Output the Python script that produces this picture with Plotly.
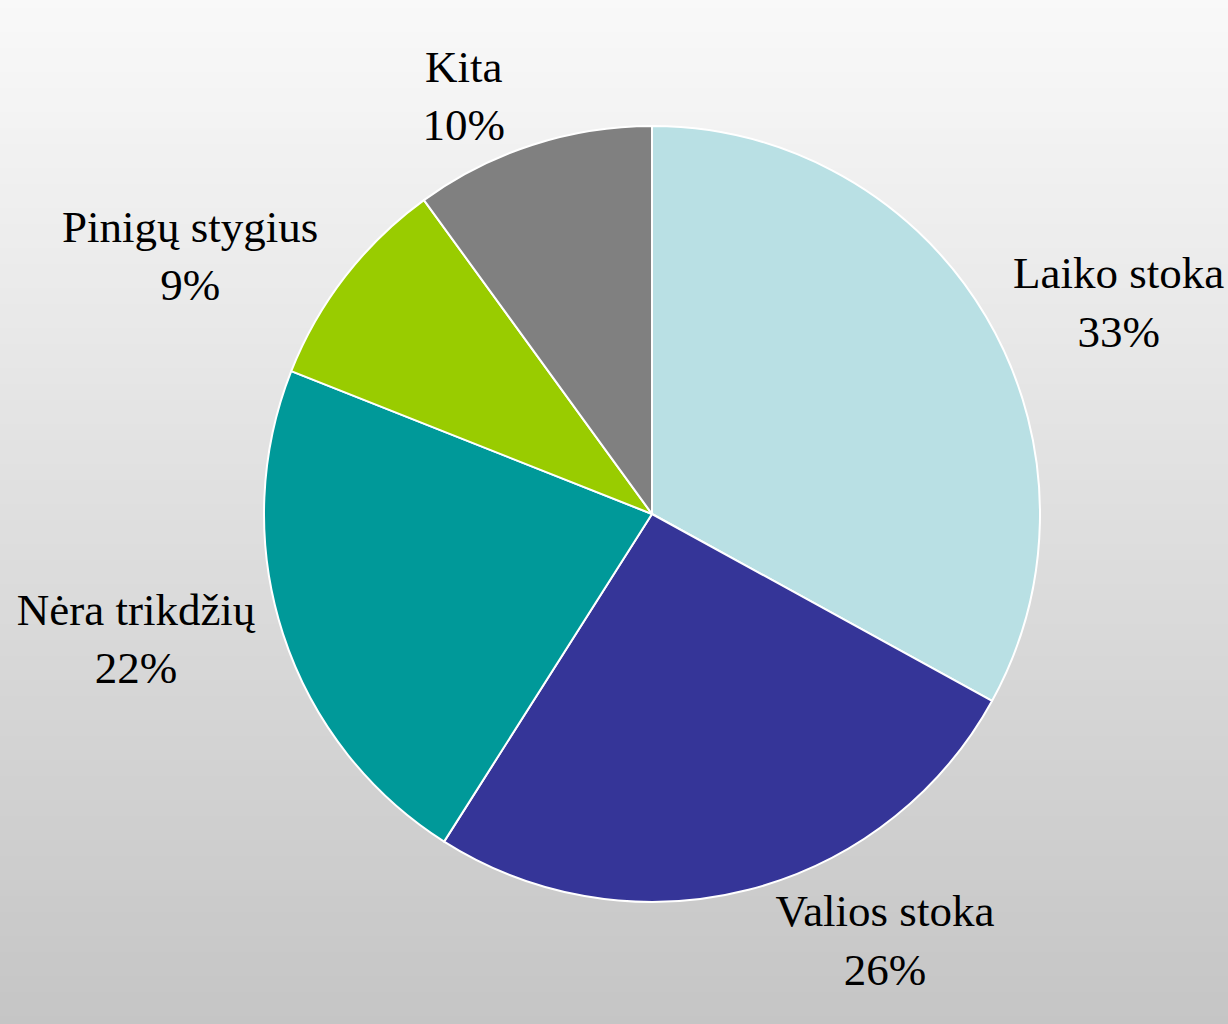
import plotly.graph_objects as go

labels = ["Laiko stoka", "Valios stoka", "Nėra trikdžių", "Pinigų stygius", "Kita"]
values = [33, 26, 22, 9, 10]
colors = ["#B9E0E4", "#353598", "#009999", "#99CC00", "#808080"]

W, H = 1228, 1024
fig = go.Figure()

fig.add_trace(go.Pie(
    labels=labels,
    values=values,
    sort=False,
    direction="clockwise",
    rotation=0,
    marker=dict(colors=colors, line=dict(color="white", width=2)),
    textposition="outside",
    texttemplate="%{label}<br>%{percent:.0%}",
    textfont=dict(family="Liberation Serif", size=45, color="black"),
    showlegend=False,
    hoverinfo="skip",
    domain=dict(x=[(652 - 388) / W, (652 + 388) / W], y=[(510 - 388) / H, (510 + 388) / H]),
    automargin=False,
))

# vertical gradient background
n = 128
top, bottom = 249, 197
shapes = []
for i in range(n):
    t = (i + 0.5) / n
    g = round(top + (bottom - top) * t)
    shapes.append(dict(type="rect", xref="paper", yref="paper",
                       x0=0, x1=1, y0=1 - i / n, y1=1 - (i + 1) / n - 0.001,
                       fillcolor=f"rgb({g},{g},{g})", line=dict(width=0), layer="below"))

fig.update_layout(
    width=W, height=H,
    margin=dict(l=0, r=0, t=0, b=0),
    paper_bgcolor="white",
    plot_bgcolor="white",
    shapes=shapes,
)

fig.write_html("out.html", config={"displayModeBar": False},
               post_script="document.body.style.margin='0';document.body.style.overflow='hidden';")
